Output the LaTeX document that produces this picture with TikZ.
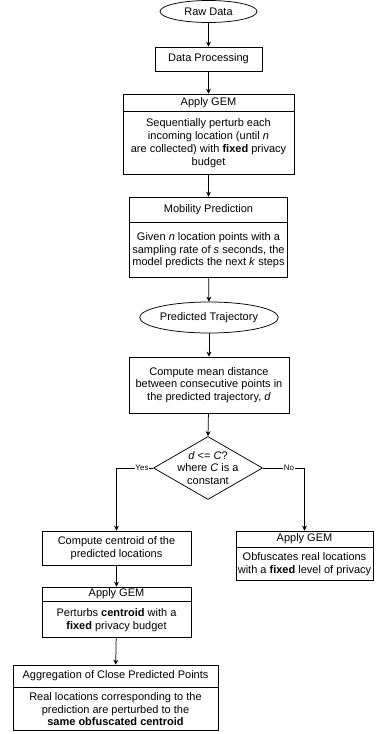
\documentclass[tikz,border=0pt]{standalone}
\usepackage{fontspec}
\setmainfont{Liberation Sans}
\usetikzlibrary{shapes.geometric,arrows.meta}

\begin{document}
\begin{tikzpicture}[x=1pt,y=-1pt,
  every node/.style={font=\fontsize{11}{12.8}\selectfont, inner sep=0pt, align=center},
  box/.style={draw, line width=0.75pt, rectangle},
  oval/.style={draw, line width=0.75pt, ellipse},
  decision/.style={draw, line width=0.75pt, diamond, minimum width=109pt, minimum height=63pt},
  flow/.style={draw, line width=0.75pt, -{Stealth[length=5pt,width=5pt]}},
  tag/.style={fill=white, font=\fontsize{8}{9}\selectfont, inner sep=0.5pt}
]
\useasboundingbox (0,0) rectangle (377,734);

% main column
\node[oval, minimum width=97pt, minimum height=22pt] (raw) at (208.5,11.5) {Raw Data};
\node[box, minimum width=107pt, minimum height=24pt] (proc) at (208.5,59) {Data Processing};

\node[box, minimum width=171pt, minimum height=17pt] (gemAh) at (208.5,102.5) {Apply GEM};
\node[box, minimum width=171pt, minimum height=63pt, anchor=north] (gemAb) at (gemAh.south)
  {Sequentially perturb each\\ incoming location (until \textit{n}\\ are collected) with \textbf{fixed} privacy\\ budget};

\node[box, minimum width=158pt, minimum height=25pt] (mobh) at (208.5,209.5) {Mobility Prediction};
\node[box, minimum width=158pt, minimum height=55pt, anchor=north] (mobb) at (mobh.south)
  {Given \textit{n} location points with a\\ sampling rate of \textit{s} seconds, the\\ model predicts the next \textit{k} steps};

\node[oval, minimum width=122pt, minimum height=31pt] (pred) at (209,317.5) {Predicted Trajectory};

\node[box, minimum width=160pt, minimum height=56pt] (mean) at (209,385)
  {Compute mean distance\\ between consecutive points in\\ the predicted trajectory, \textit{d}};

\node[decision] (dec) at (208,468) {};
\node (dectext) at (dec.center) {\textit{d} <= \textit{C}?\\ where \textit{C} is a\\ constant};

% left branch
\node[box, minimum width=149pt, minimum height=34pt] (cent) at (116.5,548)
  {Compute centroid of the\\ predicted locations};

\node[box, minimum width=149pt, minimum height=14pt] (gemLh) at (116.5,594) {Apply GEM};
\node[box, minimum width=149pt, minimum height=36pt, anchor=north] (gemLb) at (gemLh.south)
  {Perturbs \textbf{centroid} with a\\ \textbf{fixed} privacy budget};

\node[box, minimum width=205pt, minimum height=22pt] (aggh) at (115.5,676) {Aggregation of Close Predicted Points};
\node[box, minimum width=205pt, minimum height=43pt, anchor=north] (aggb) at (aggh.south)
  {Real locations corresponding to the\\ prediction are perturbed to the\\ \textbf{same obfuscated centroid}};

% right branch
\node[box, minimum width=137pt, minimum height=16pt] (gemRh) at (304.5,539) {Apply GEM};
\node[box, minimum width=137pt, minimum height=33pt, anchor=north] (gemRb) at (gemRh.south)
  {Obfuscates real locations\\ with a \textbf{fixed} level of privacy};

% bends of the two branches
\coordinate (yesbend) at (cent.north |- dec.west);
\coordinate (nobend) at (gemRh.north |- dec.east);

% connectors
\draw[flow] (raw) -- (proc);
\draw[flow] (proc) -- (gemAh);
\draw[flow] (gemAb) -- (mobh);
\draw[flow] (mobb) -- (pred);
\draw[flow] (pred) -- (mean);
\draw[flow] (mean) -- (dec.north);
\draw[flow] (dec.west) -- (yesbend) -- (cent.north);
\draw[flow] (dec.east) -- (nobend) -- (gemRh.north);
\draw[flow] (cent) -- (gemLh);
\draw[flow] (gemLb) -- (aggh);

% branch labels
\node[tag] (yes) at (142,468) {Yes};
\node[tag] (no) at (289,468) {No};
\end{tikzpicture}
\end{document}
